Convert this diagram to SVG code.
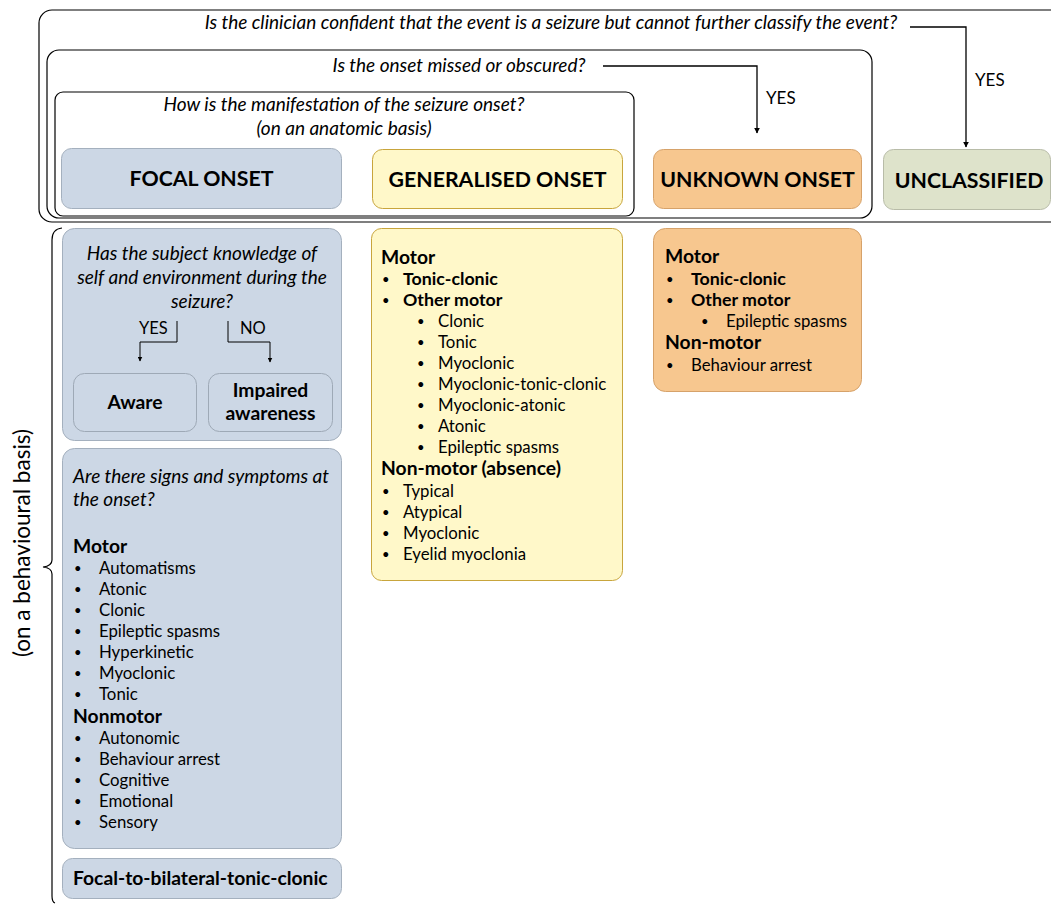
<svg xmlns="http://www.w3.org/2000/svg" width="1051" height="904" viewBox="0 0 1051 904">
  <defs>
    <marker id="arrow" viewBox="0 0 10 10" refX="9" refY="5" markerWidth="6" markerHeight="6" orient="auto-start-reverse" markerUnits="userSpaceOnUse">
      <path d="M0,0 L10,5 L0,10 z" fill="#000"/>
    </marker>
    <marker id="arrowSmall" viewBox="0 0 10 10" refX="9" refY="5" markerWidth="5" markerHeight="5" orient="auto-start-reverse" markerUnits="userSpaceOnUse">
      <path d="M0,0 L10,5 L0,10 z" fill="#000"/>
    </marker>
  </defs>
  <style>
    text { font-family: Lato, "Liberation Sans", sans-serif; fill: #000; }
    .q { font-style: italic; font-size: 19px; }
    .head { font-weight: bold; font-size: 21.3px; }
    .body { font-size: 16.8px; }
    .item-b { font-weight: bold; font-size: 17.8px; }
    .subhead { font-weight: bold; font-size: 19.3px; }
    .box-label { font-weight: bold; font-size: 19.3px; }
    .dot { font-size: 13px; }
    .lab { font-size: 17px; }
    .lab-s { font-size: 16.5px; }
    .side { font-size: 22.5px; }
    .frame { fill: none; stroke: #000; stroke-width: 1.2; }
    .focal { fill: #ccd7e5; stroke: #a4b0be; stroke-width: 1; }
    .gen { fill: #fff8c9; stroke: #c8a53c; stroke-width: 1; }
    .unk { fill: #f7c78f; stroke: #d6a26a; stroke-width: 1; }
    .uncl { fill: #dee3cb; stroke: #b8bca8; stroke-width: 1; }
    .sub { fill: #ccd7e5; stroke: #9ea9b6; stroke-width: 1; }
    .conn { fill: none; stroke: #000; stroke-width: 1.3; }
    .connS { fill: none; stroke: #000; stroke-width: 1; }
  </style>

  <!-- nested question frames -->
  <g id="frames">
    <rect class="frame" x="39" y="10" width="1040" height="212" rx="13"/>
    <rect class="frame" x="47" y="50" width="825" height="168" rx="12"/>
    <rect class="frame" x="55" y="92" width="579" height="124" rx="8"/>
  </g>

  <g id="q-unclassified">
    <text class="q" x="551" y="29" text-anchor="middle">Is the clinician confident that the event is a seizure but cannot further classify the event?</text>
  </g>
  <g id="q-missed">
    <text class="q" x="459" y="72" text-anchor="middle">Is the onset missed or obscured?</text>
  </g>
  <g id="q-anatomic">
    <text class="q" x="344" y="111" text-anchor="middle">How is the manifestation of the seizure onset?</text>
    <text class="q" x="344" y="135" text-anchor="middle">(on an anatomic basis)</text>
  </g>

  <!-- onset categories -->
  <g id="focal-onset">
    <rect class="focal" x="61.5" y="148.5" width="280" height="60" rx="10"/>
    <text class="head" x="201.5" y="186" text-anchor="middle">FOCAL ONSET</text>
  </g>
  <g id="generalised-onset">
    <rect class="gen" x="372.5" y="149.5" width="250" height="59" rx="10"/>
    <text class="head" x="497.5" y="187" text-anchor="middle">GENERALISED ONSET</text>
  </g>
  <g id="unknown-onset">
    <rect class="unk" x="653.5" y="149.5" width="208" height="59" rx="10"/>
    <text class="head" x="757.5" y="187" text-anchor="middle">UNKNOWN ONSET</text>
  </g>
  <g id="unclassified">
    <rect class="uncl" x="883.5" y="149.5" width="167" height="60" rx="10"/>
    <text class="head" x="969" y="188" text-anchor="middle">UNCLASSIFIED</text>
  </g>

  <!-- behavioural brace -->
  <g id="behavioural-brace">
    <path class="frame" d="M62,228 Q52,229 52,240 V560 Q52,566 43,567 Q52,568 52,574 V896 Q52,902 55,903"/>
    <text class="side" transform="translate(30,543) rotate(-90)" text-anchor="middle">(on a behavioural basis)</text>
  </g>

  <!-- focal: awareness -->
  <g id="focal-awareness">
    <rect class="focal" x="62.5" y="228.5" width="279" height="212" rx="12"/>
    <text class="q" x="202" y="260" text-anchor="middle">Has the subject knowledge of</text>
    <text class="q" x="202" y="284" text-anchor="middle">self and environment during the</text>
    <text class="q" x="202" y="308" text-anchor="middle">seizure?</text>
  </g>
  <g id="aware">
    <rect class="sub" x="73.5" y="373.5" width="123" height="58" rx="11"/>
    <text class="box-label" x="135" y="409" text-anchor="middle">Aware</text>
  </g>
  <g id="impaired-awareness">
    <rect class="sub" x="208.5" y="373.5" width="124" height="58" rx="11"/>
    <text class="box-label" x="270.5" y="397" text-anchor="middle">Impaired</text>
    <text class="box-label" x="270.5" y="420" text-anchor="middle">awareness</text>
  </g>

  <!-- focal: signs and symptoms -->
  <g id="focal-signs">
    <rect class="focal" x="62.5" y="448.5" width="279" height="400" rx="12"/>
    <text class="q" x="73" y="483">Are there signs and symptoms at</text>
    <text class="q" x="73" y="506">the onset?</text>
    <text class="subhead" x="73" y="553">Motor</text>
    <g class="body">
      <text class="dot" x="74" y="573">•</text><text x="99" y="574">Automatisms</text>
      <text class="dot" x="74" y="594">•</text><text x="99" y="595">Atonic</text>
      <text class="dot" x="74" y="615">•</text><text x="99" y="616">Clonic</text>
      <text class="dot" x="74" y="636">•</text><text x="99" y="637">Epileptic spasms</text>
      <text class="dot" x="74" y="657">•</text><text x="99" y="658">Hyperkinetic</text>
      <text class="dot" x="74" y="678">•</text><text x="99" y="679">Myoclonic</text>
      <text class="dot" x="74" y="699">•</text><text x="99" y="700">Tonic</text>
    </g>
    <text class="subhead" x="73" y="723">Nonmotor</text>
    <g class="body">
      <text class="dot" x="74" y="743">•</text><text x="99" y="744">Autonomic</text>
      <text class="dot" x="74" y="764">•</text><text x="99" y="765">Behaviour arrest</text>
      <text class="dot" x="74" y="785">•</text><text x="99" y="786">Cognitive</text>
      <text class="dot" x="74" y="806">•</text><text x="99" y="807">Emotional</text>
      <text class="dot" x="74" y="827">•</text><text x="99" y="828">Sensory</text>
    </g>
  </g>
  <g id="focal-to-bilateral">
    <rect class="focal" x="62.5" y="858.5" width="279" height="40" rx="10"/>
    <text class="subhead" x="73" y="885">Focal-to-bilateral-tonic-clonic</text>
  </g>

  <!-- generalised types -->
  <g id="generalised-types">
    <rect class="gen" x="371.5" y="228.5" width="251" height="352" rx="10"/>
    <text class="subhead" x="381" y="264">Motor</text>
    <g class="body">
      <text class="dot" x="382" y="284">•</text><text class="item-b" x="403" y="285">Tonic-clonic</text>
      <text class="dot" x="382" y="305">•</text><text class="item-b" x="403" y="306">Other motor</text>
      <text class="dot" x="417" y="326">•</text><text x="438" y="327">Clonic</text>
      <text class="dot" x="417" y="347">•</text><text x="438" y="348">Tonic</text>
      <text class="dot" x="417" y="368">•</text><text x="438" y="369">Myoclonic</text>
      <text class="dot" x="417" y="389">•</text><text x="438" y="390">Myoclonic-tonic-clonic</text>
      <text class="dot" x="417" y="410">•</text><text x="438" y="411">Myoclonic-atonic</text>
      <text class="dot" x="417" y="431">•</text><text x="438" y="432">Atonic</text>
      <text class="dot" x="417" y="452">•</text><text x="438" y="453">Epileptic spasms</text>
    </g>
    <text class="subhead" x="381" y="475">Non-motor (absence)</text>
    <g class="body">
      <text class="dot" x="382" y="496">•</text><text x="403" y="497">Typical</text>
      <text class="dot" x="382" y="517">•</text><text x="403" y="518">Atypical</text>
      <text class="dot" x="382" y="538">•</text><text x="403" y="539">Myoclonic</text>
      <text class="dot" x="382" y="559">•</text><text x="403" y="560">Eyelid myoclonia</text>
    </g>
  </g>

  <!-- unknown-onset types -->
  <g id="unknown-types">
    <rect class="unk" x="653.5" y="228.5" width="208" height="163" rx="12"/>
    <text class="subhead" x="665" y="263">Motor</text>
    <g class="body">
      <text class="dot" x="666" y="284">•</text><text class="item-b" x="691" y="285">Tonic-clonic</text>
      <text class="dot" x="666" y="305">•</text><text class="item-b" x="691" y="306">Other motor</text>
      <text class="dot" x="701" y="326">•</text><text x="726" y="327">Epileptic spasms</text>
    </g>
    <text class="subhead" x="665" y="349">Non-motor</text>
    <g class="body">
      <text class="dot" x="666" y="370">•</text><text x="691" y="371">Behaviour arrest</text>
    </g>
  </g>

  <!-- connectors -->
  <g id="connectors">
    <path class="conn" d="M910,27 H966 V147" marker-end="url(#arrow)"/>
    <path class="conn" d="M603,66 H757 V133" marker-end="url(#arrow)"/>
    <path class="connS" d="M177,321 V342 H140 V361" marker-end="url(#arrowSmall)"/>
    <path class="connS" d="M228,321 V342 H270 V362" marker-end="url(#arrowSmall)"/>
  </g>
  <g id="connector-labels">
    <text class="lab" x="975" y="86">YES</text>
    <text class="lab" x="766" y="104">YES</text>
    <text class="lab-s" x="139" y="334">YES</text>
    <text class="lab-s" x="240" y="334">NO</text>
  </g>
</svg>
